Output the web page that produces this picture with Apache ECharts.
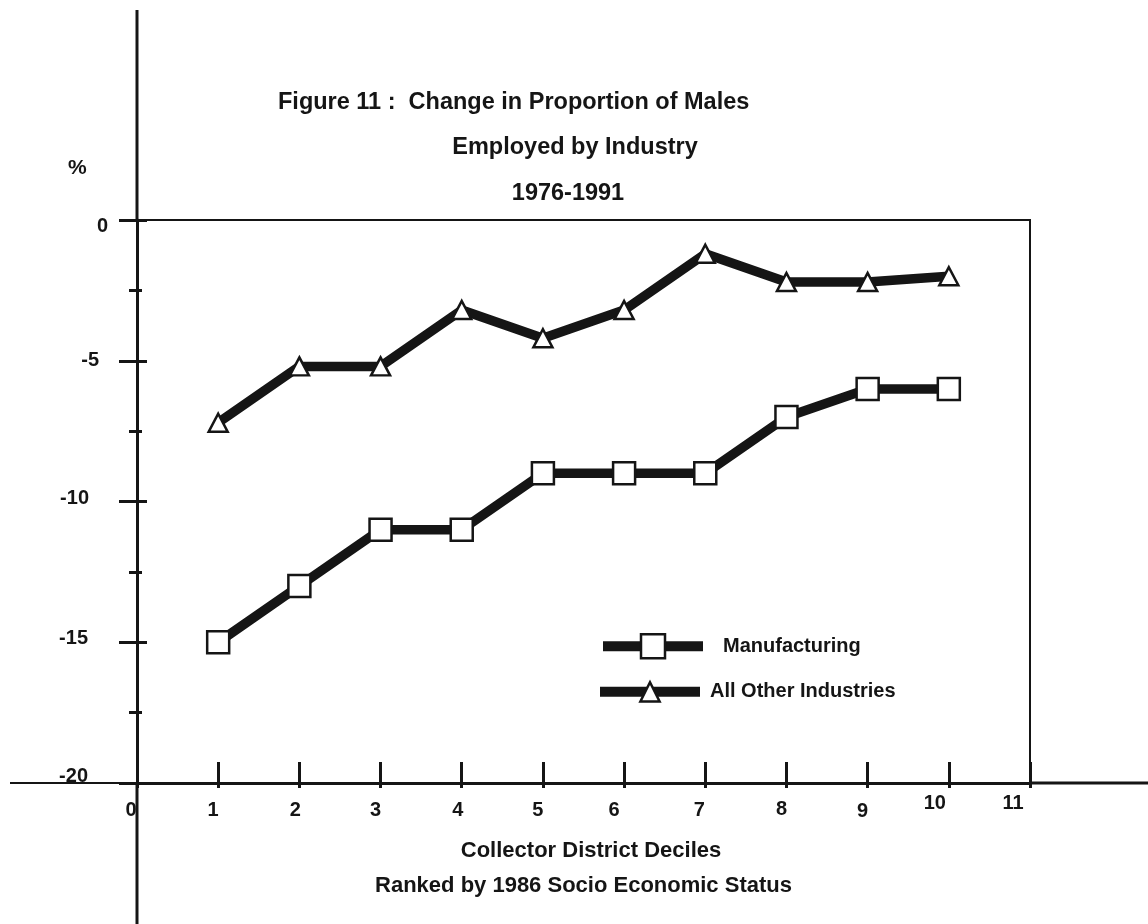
<!DOCTYPE html>
<html>
<head>
<meta charset="utf-8">
<title>Figure 11</title>
<script src="https://cdn.jsdelivr.net/npm/echarts@6/dist/echarts.min.js"></script>
<style>
  html, body { margin: 0; padding: 0; background: #fff; }
  #main { width: 1148px; height: 924px; }
</style>
</head>
<body>
<div id="main"></div>
<script>
// data
const deciles = [1, 2, 3, 4, 5, 6, 7, 8, 9, 10]
const manufacturing = [-15, -13, -11, -11, -9, -9, -9, -7, -6, -6]
const otherIndustries = [-7.2, -5.2, -5.2, -3.2, -4.2, -3.2, -1.2, -2.2, -2.2, -2.0]
const xTicks = [0, 1, 2, 3, 4, 5, 6, 7, 8, 9, 10, 11]
const yTicks = [0, -5, -10, -15, -20]
const seriesNames = ['Manufacturing', 'All Other Industries']
const titleLines = ['Figure 11 :  Change in Proportion of Males', 'Employed by Industry', '1976-1991']
const xNameLines = ['Collector District Deciles', 'Ranked by 1986 Socio Economic Status']
const yName = '%'

const ink = '#151515'
const font = "'Liberation Sans', Arial, sans-serif"

// small label nudges [dx, dy] so the labels sit like the scanned original
const xLabelNudge = [[-6, 0], [-5, 0], [-4, 0], [-5, 0], [-4, 0], [-5, 0], [-10, 0], [-6, 0], [-5, -1], [-5, 1], [-14, -7], [-17, -7]]
const yLabelNudge = [[0, 6], [-9, 0], [-19, -3], [-20, -4], [-20, -7]]

function pad(dx, dy, centered) {
  const h = centered ? 2 * Math.abs(dx) : Math.abs(dx)
  return [dy > 0 ? 2 * dy : 0, dx < 0 ? h : 0, dy < 0 ? -2 * dy : 0, dx > 0 ? h : 0]
}

const xRich = {}
xTicks.forEach((t, i) => {
  xRich['x' + i] = { padding: pad(xLabelNudge[i][0], xLabelNudge[i][1], true) }
})
const yRich = {}
yTicks.forEach((t, i) => {
  yRich['y' + i] = { padding: pad(yLabelNudge[i][0], yLabelNudge[i][1], false) }
})

const chart = echarts.init(document.getElementById('main'))

const titleStyle = {
  color: ink,
  fontFamily: font,
  fontSize: 23.5,
  fontWeight: 'bold'
}

chart.setOption({
  animation: false,
  backgroundColor: '#fff',
  textStyle: { fontFamily: font, color: ink },
  title: [
    { text: titleLines[0], left: 278, top: 91, padding: 0, textAlign: 'left', textVerticalAlign: 'top', textStyle: titleStyle },
    { text: titleLines[1], left: 575, top: 136, padding: 0, textAlign: 'center', textVerticalAlign: 'top', textStyle: titleStyle },
    { text: titleLines[2], left: 568, top: 182, padding: 0, textAlign: 'center', textVerticalAlign: 'top', textStyle: titleStyle },
    { text: yName, left: 68, top: 158, padding: 0, textAlign: 'left', textVerticalAlign: 'top', textStyle: Object.assign({}, titleStyle, { fontSize: 21 }) }
  ],
  legend: [
    {
      data: [seriesNames[0]],
      left: 598,
      top: 633,
      padding: 0,
      itemWidth: 100,
      itemHeight: 30,
      selectedMode: false,
      lineStyle: { width: 10, color: ink },
      itemStyle: { color: '#fff', borderColor: ink, borderWidth: 2.5 },
      textStyle: { color: ink, fontFamily: font, fontSize: 20, fontWeight: 'bold', padding: [0, 0, 10, 15] }
    },
    {
      data: [seriesNames[1]],
      left: 595,
      top: 681,
      padding: 0,
      itemWidth: 100,
      itemHeight: 24,
      selectedMode: false,
      lineStyle: { width: 10, color: ink },
      itemStyle: { color: '#fff', borderColor: ink, borderWidth: 2.5 },
      textStyle: { color: ink, fontFamily: font, fontSize: 20, fontWeight: 'bold', padding: [0, 0, 6, 5] }
    }
  ],
  grid: {
    left: 137,
    right: 118,
    top: 220,
    bottom: 141,
    show: true,
    borderColor: ink,
    borderWidth: 2,
    backgroundColor: 'transparent',
    containLabel: false,
    outerBoundsMode: 'none'
  },
  xAxis: [
    {
      type: 'value',
      position: 'bottom',
      min: 0,
      max: 11,
      interval: 1,
      name: '{a|' + xNameLines[0] + '}\n{b|' + xNameLines[1] + '}',
      nameLocation: 'middle',
      nameGap: 50,
      nameTextStyle: {
        color: ink,
        fontFamily: font,
        fontSize: 22,
        fontWeight: 'bold',
        rich: {
          a: { lineHeight: 35, padding: [0, 0, 0, 15] },
          b: { lineHeight: 35 }
        }
      },
      axisLine: { show: true, onZero: false, lineStyle: { color: ink, width: 3 } },
      axisTick: { show: true, inside: true, length: 21, lineStyle: { color: ink, width: 3 } },
      splitLine: { show: false },
      axisLabel: {
        show: true,
        margin: 27,
        verticalAlign: 'middle',
        color: ink,
        fontFamily: font,
        fontSize: 20,
        fontWeight: 'bold',
        showMinLabel: true,
        showMaxLabel: true,
        formatter: function (v) {
          const i = xTicks.indexOf(v)
          return i < 0 ? '' : '{x' + i + '|' + v + '}'
        },
        rich: xRich
      }
    },
    {
      // short stubs of the ticks below the axis line
      type: 'value',
      position: 'bottom',
      min: 0,
      max: 11,
      interval: 1,
      axisLine: { show: false, onZero: false },
      axisTick: { show: true, inside: false, length: 5, lineStyle: { color: ink, width: 3 } },
      axisLabel: { show: false },
      splitLine: { show: false }
    }
  ],
  yAxis: [
    {
      type: 'value',
      position: 'left',
      min: -20,
      max: 0,
      interval: 5,
      axisLine: { show: true, onZero: false, lineStyle: { color: ink, width: 3 } },
      axisTick: { show: true, inside: false, length: 18, lineStyle: { color: ink, width: 3 } },
      minorTick: { show: true, splitNumber: 2, length: 8, lineStyle: { color: ink, width: 3 } },
      splitLine: { show: false },
      axisLabel: {
        show: true,
        margin: 29,
        color: ink,
        fontFamily: font,
        fontSize: 20,
        fontWeight: 'bold',
        formatter: function (v) {
          const i = yTicks.indexOf(v)
          return i < 0 ? '' : '{y' + i + '|' + v + '}'
        },
        rich: yRich
      }
    },
    {
      // ticks crossing to the inside of the axis
      type: 'value',
      position: 'left',
      min: -20,
      max: 0,
      interval: 5,
      axisLine: { show: false, onZero: false },
      axisTick: { show: true, inside: true, length: 10, lineStyle: { color: ink, width: 3 } },
      minorTick: { show: true, splitNumber: 2, length: 5, lineStyle: { color: ink, width: 3 } },
      axisLabel: { show: false },
      splitLine: { show: false }
    }
  ],
  series: [
    {
      name: seriesNames[0],
      type: 'line',
      xAxisIndex: 0,
      yAxisIndex: 0,
      data: deciles.map((d, i) => [d, manufacturing[i]]),
      symbol: 'rect',
      symbolSize: 22,
      lineStyle: { color: ink, width: 9.5 },
      itemStyle: { color: '#fff', borderColor: ink, borderWidth: 2.5 },
      emphasis: { disabled: true }
    },
    {
      name: seriesNames[1],
      type: 'line',
      xAxisIndex: 0,
      yAxisIndex: 0,
      data: deciles.map((d, i) => [d, otherIndustries[i]]),
      symbol: 'triangle',
      symbolSize: [19, 18],
      lineStyle: { color: ink, width: 9.5 },
      itemStyle: { color: '#fff', borderColor: ink, borderWidth: 2.5 },
      emphasis: { disabled: true }
    }
  ]
})

// the axes of the original run on past the plot frame
const origin = chart.convertToPixel({ gridIndex: 0 }, [0, -20])
const corner = chart.convertToPixel({ gridIndex: 0 }, [11, 0])
chart.setOption({
  graphic: [
    { type: 'line', shape: { x1: origin[0], y1: 10, x2: origin[0], y2: corner[1] }, style: { stroke: ink, lineWidth: 3 } },
    { type: 'line', shape: { x1: origin[0], y1: origin[1], x2: origin[0], y2: 924 }, style: { stroke: ink, lineWidth: 3 } },
    { type: 'line', shape: { x1: 10, y1: origin[1], x2: origin[0], y2: origin[1] }, style: { stroke: ink, lineWidth: 2 } },
    { type: 'line', shape: { x1: corner[0], y1: origin[1], x2: 1148, y2: origin[1] }, style: { stroke: ink, lineWidth: 3 } }
  ]
})
</script>
</body>
</html>
